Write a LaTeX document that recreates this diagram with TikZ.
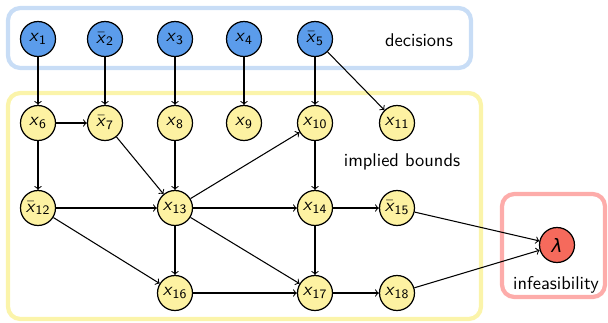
\documentclass[tikz,border=0pt]{standalone}
\usepackage{tikz}
\usepackage{xcolor}
\usepackage{fontspec}
\newfontfamily\greekfont{DejaVu Sans}
\definecolor{decblue}{HTML}{5B9CEB}
\definecolor{decframe}{HTML}{C8DDF6}
\definecolor{impyellow}{HTML}{FDF2A2}
\definecolor{impframe}{HTML}{FBF4AA}
\definecolor{infred}{HTML}{F66A5C}
\definecolor{infframe}{HTML}{FDACAA}

% variable labels in sans italic, with an optional bar
\newcommand{\xvar}[1]{\textit{x}\textsubscript{#1}}
\newcommand{\xbar}[1]{$\bar{\mbox{\textit{x}}}$\textsubscript{#1}}

\tikzset{
    var/.style={draw, circle, minimum size=0.7cm, inner sep=0pt, line width=0.7pt},
    decision/.style={var, fill=decblue},
    implied/.style={var, fill=impyellow},
    conflict/.style={var, fill=infred},
    group/.style={line width=2.4pt, rounded corners=7pt},
    link/.style={->, line width=0.6pt}
}

\begin{document}
\begin{tikzpicture}[x=0.02cm, y=-0.02cm, font=\sffamily\fontsize{10.5}{12}\selectfont]

    \useasboundingbox (0,0) rectangle (608,322);

    % Frames around the three groups
    \draw[group, decframe] (8,8) rectangle (471,68);
    \draw[group, impframe] (8,93) rectangle (481,319);
    \draw[group, infframe] (502,194) rectangle (605,297);

    \node at (419,40) {decisions};
    \node at (402,162) {implied bounds};
    \node at (556,285) {infeasibility};

    % Decision variables
    \node[decision] (x1) at (38,39) {\xvar{1}};
    \node[decision] (x2) at (105,39) {\xbar{2}};
    \node[decision] (x3) at (175,39) {\xvar{3}};
    \node[decision] (x4) at (244,39) {\xvar{4}};
    \node[decision] (x5) at (315,39) {\xbar{5}};

    % Implied bounds, row by row
    \node[implied] (x6) at (38,123) {\xvar{6}};
    \node[implied] (x7) at (105,123) {\xbar{7}};
    \node[implied] (x8) at (175,123) {\xvar{8}};
    \node[implied] (x9) at (244,123) {\xvar{9}};
    \node[implied] (x10) at (315,123) {\xvar{10}};
    \node[implied] (x11) at (397,123) {\xvar{11}};

    \node[implied] (x12) at (38,208) {\xbar{12}};
    \node[implied] (x13) at (175,208) {\xvar{13}};
    \node[implied] (x14) at (315,208) {\xvar{14}};
    \node[implied] (x15) at (397,208) {\xbar{15}};

    \node[implied] (x16) at (175,293) {\xvar{16}};
    \node[implied] (x17) at (315,293) {\xvar{17}};
    \node[implied] (x18) at (397,293) {\xvar{18}};

    % Conflict node
    \node[conflict] (lam) at (557,245) {\greekfont\itshape λ};

    % Implication edges
    \foreach \from/\to in {x1/x6, x2/x7, x3/x8, x4/x9, x5/x10, x5/x11,
                           x6/x7, x6/x12, x7/x13, x8/x13, x10/x14,
                           x12/x13, x12/x16, x13/x10, x13/x14, x13/x16, x13/x17,
                           x14/x15, x14/x17, x16/x17, x17/x18,
                           x15/lam, x18/lam} {
        \draw[link] (\from) -- (\to);
    }

\end{tikzpicture}
\end{document}
